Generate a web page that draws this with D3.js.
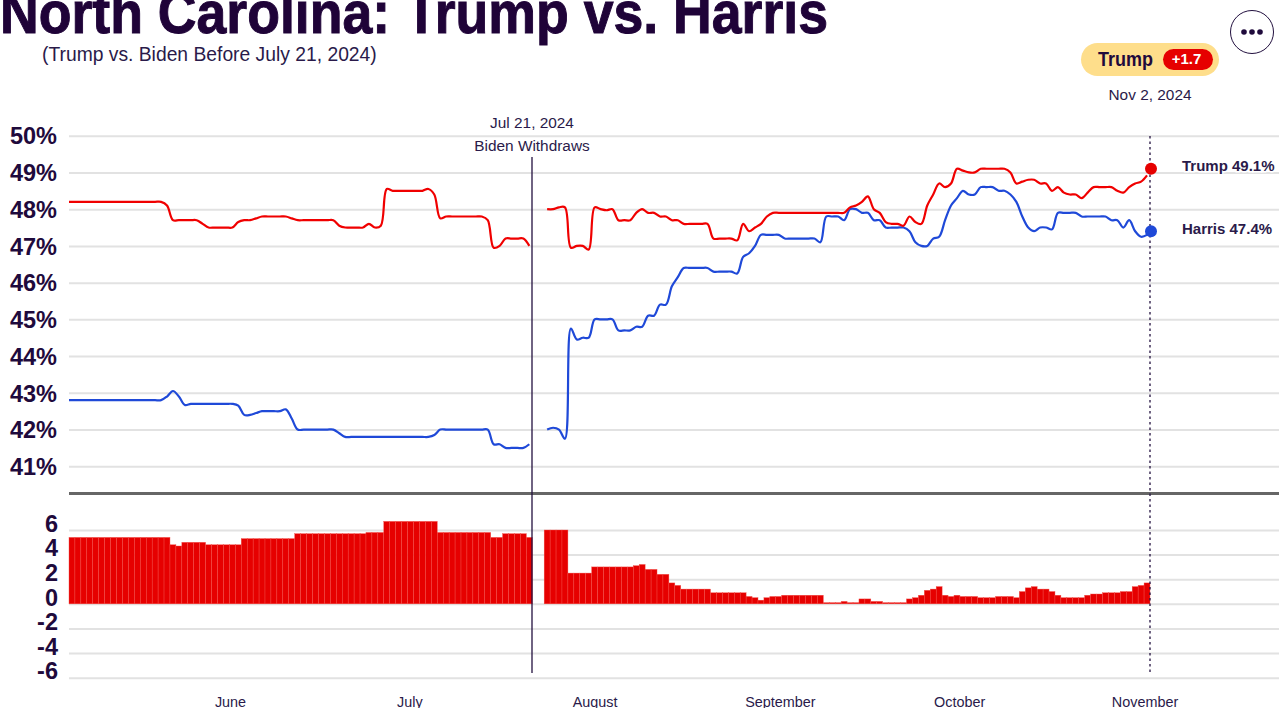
<!DOCTYPE html>
<html>
<head>
<meta charset="utf-8">
<title>North Carolina: Trump vs. Harris</title>
<script src="https://cdn.jsdelivr.net/npm/d3@7"></script>
<style>
  body { margin: 0; background: #fff; overflow: hidden; }
  text { font-family: "Liberation Sans", Arial, sans-serif; fill: #2a1a4a; }
  .grid .domain { display: none; }
  .grid line { stroke: #e2e2e2; stroke-width: 2; }
  .grid text { font-size: 23.5px; font-weight: bold; fill: #1f0a3c; }
  .months .domain, .months line { display: none; }
  .months text { font-size: 14.4px; fill: #2a1a4a; }
</style>
</head>
<body>
<div id="chart"></div>
<script>
// daily values, May 5 to Nov 2 2024. null = the gap after Biden withdraws (Jul 22, 23)
var trump = [
  48.2,48.2,48.2,48.2,48.2,48.2,48.2,48.2,48.2,48.2,48.2,48.2,48.2,48.2,48.2,48.2,
  48.1,47.7,47.7,47.7,47.7,47.7,47.6,47.5,47.5,47.5,47.5,47.5,47.65,47.7,47.7,47.75,
  47.8,47.8,47.8,47.8,47.8,47.75,47.7,47.7,47.7,47.7,47.7,47.7,47.7,47.55,47.5,47.5,
  47.5,47.5,47.6,47.5,47.55,48.55,48.5,48.5,48.5,48.5,48.5,48.5,48.55,48.4,47.75,47.8,
  47.8,47.8,47.8,47.8,47.8,47.8,47.7,46.95,47.0,47.2,47.2,47.2,47.2,47.0,null,null,
  48.0,48.0,48.05,48.05,46.95,47.0,47.0,46.9,48.05,48.0,47.97,48.0,47.7,47.7,47.7,47.9,
  48.0,47.9,47.9,47.8,47.8,47.7,47.7,47.6,47.6,47.6,47.6,47.6,47.2,47.2,47.2,47.2,
  47.15,47.6,47.4,47.5,47.6,47.8,47.9,47.9,47.9,47.9,47.9,47.9,47.9,47.9,47.9,47.9,
  47.9,47.9,47.9,48.05,48.1,48.2,48.35,48.0,47.9,47.65,47.6,47.6,47.55,47.8,47.65,47.6,
  48.1,48.4,48.7,48.6,48.7,49.1,49.05,49.0,49.0,49.1,49.1,49.1,49.1,49.1,49.0,48.7,
  48.75,48.8,48.8,48.7,48.7,48.5,48.6,48.45,48.4,48.4,48.3,48.45,48.6,48.6,48.6,48.6,
  48.5,48.45,48.6,48.7,48.75,48.92
];
var harris = [
  42.8,42.8,42.8,42.8,42.8,42.8,42.8,42.8,42.8,42.8,42.8,42.8,42.8,42.8,42.8,42.8,
  42.9,43.05,42.9,42.67,42.7,42.7,42.7,42.7,42.7,42.7,42.7,42.7,42.65,42.4,42.4,42.45,
  42.5,42.5,42.5,42.5,42.55,42.3,42.0,42.0,42.0,42.0,42.0,42.0,42.0,41.9,41.8,41.8,
  41.8,41.8,41.8,41.8,41.8,41.8,41.8,41.8,41.8,41.8,41.8,41.8,41.8,41.85,42.0,42.0,
  42.0,42.0,42.0,42.0,42.0,42.0,42.0,41.6,41.6,41.5,41.5,41.5,41.5,41.6,null,null,
  42.0,42.05,42.0,41.75,44.75,44.45,44.5,44.5,45.0,45.0,45.0,45.0,44.7,44.7,44.7,44.8,
  44.8,45.1,45.1,45.4,45.4,45.9,46.15,46.4,46.4,46.4,46.4,46.4,46.3,46.3,46.3,46.3,
  46.25,46.7,46.8,47.0,47.3,47.3,47.3,47.3,47.2,47.2,47.2,47.2,47.2,47.2,47.1,47.8,
  47.8,47.8,47.7,48.0,48.0,47.9,47.9,47.7,47.7,47.5,47.5,47.5,47.5,47.4,47.1,47.0,
  47.0,47.2,47.25,47.7,48.1,48.3,48.5,48.4,48.4,48.6,48.6,48.6,48.5,48.5,48.4,48.2,
  47.8,47.5,47.4,47.5,47.5,47.45,47.9,47.9,47.9,47.9,47.8,47.8,47.8,47.8,47.8,47.7,
  47.7,47.5,47.7,47.4,47.25,47.3
];
var spread = [
  5.4,5.4,5.4,5.4,5.4,5.4,5.4,5.4,5.4,5.4,5.4,5.4,5.4,5.4,5.4,5.4,
  5.4,4.8,4.7,5.0,5.0,5.0,5.0,4.8,4.8,4.8,4.8,4.8,4.8,5.3,5.3,5.3,
  5.3,5.3,5.3,5.3,5.3,5.3,5.7,5.7,5.7,5.7,5.7,5.7,5.7,5.7,5.7,5.7,
  5.7,5.7,5.8,5.8,5.8,6.7,6.7,6.7,6.7,6.7,6.7,6.7,6.7,6.7,5.8,5.8,
  5.8,5.8,5.8,5.8,5.8,5.8,5.8,5.4,5.4,5.7,5.7,5.7,5.7,5.4,null,null,
  6.0,6.0,6.0,6.0,2.5,2.5,2.5,2.5,3.0,3.0,3.0,3.0,3.0,3.0,3.0,3.1,
  3.2,2.8,2.8,2.4,2.4,1.7,1.5,1.2,1.2,1.2,1.2,1.2,0.9,0.9,0.9,0.9,
  0.9,0.9,0.6,0.5,0.3,0.5,0.6,0.6,0.7,0.7,0.7,0.7,0.7,0.7,0.7,0.1,
  0.1,0.1,0.2,0.1,0.1,0.4,0.4,0.2,0.2,0.1,0.1,0.1,0.1,0.4,0.5,0.7,
  1.1,1.2,1.4,0.7,0.6,0.7,0.6,0.6,0.6,0.5,0.5,0.5,0.6,0.6,0.6,0.5,
  1.0,1.3,1.4,1.2,1.2,1.0,0.7,0.5,0.5,0.5,0.5,0.7,0.8,0.8,0.9,0.9,
  0.9,1.0,1.0,1.4,1.5,1.7
];
var latest = [{name: "Trump", value: 49.1, color: "#e60000"}, {name: "Harris", value: 47.4, color: "#1f49d8"}];
var percentTicks = [41, 42, 43, 44, 45, 46, 47, 48, 49, 50];
var spreadTicks = [-6, -4, -2, 0, 2, 4, 6];
var monthTicks = [new Date(2024, 5, 1), new Date(2024, 6, 1), new Date(2024, 7, 1), new Date(2024, 8, 1), new Date(2024, 9, 1), new Date(2024, 10, 1)];

var width = 1279,
  height = 708,
  left = 69,
  plotRight = 1150,
  ink = "#22103f";

var svg = d3.select("#chart").append("svg")
  .attr("width", width)
  .attr("height", height)
  .style("display", "block");

var days = d3.range(spread.length);

var x = d3.scaleBand().domain(days).range([left, plotRight]).padding(0);
var xMonths = d3.scaleTime().domain([monthTicks[0], monthTicks[5]]).range([230, 1144.5]);
var yTop = d3.scaleLinear().domain([41, 50]).range([466.3, 135.7]);
var yBottom = d3.scaleLinear().domain([-6, 6]).range([677.7, 530]);

// Below, the grid lines and the labels of both panels
svg.append("g")
  .attr("class", "grid")
  .attr("transform", "translate(" + left + ",0)")
  .call(d3.axisLeft(yTop).tickValues(percentTicks).tickSize(-(width - left)).tickPadding(12).tickFormat(function(d) { return d + "%"; }))
  .selectAll("text").attr("dy", "0.35em");

// plain hyphen on the negative labels, like the original
svg.append("g")
  .attr("class", "grid")
  .attr("transform", "translate(" + left + ",0)")
  .call(d3.axisLeft(yBottom).tickValues(spreadTicks).tickSize(-(width - left)).tickPadding(11).tickFormat(function(d) { return String(d); }))
  .selectAll("text").attr("dy", "0.05em");

svg.append("g")
  .attr("class", "months")
  .attr("transform", "translate(0,695.3)")
  .call(d3.axisBottom(xMonths).tickValues(monthTicks).tickSize(0).tickPadding(0).tickFormat(d3.timeFormat("%B")))
  .selectAll("text").attr("dy", "0.8em");

// divider between the two panels
svg.append("line")
  .attr("x1", left).attr("x2", width)
  .attr("y1", 493.5).attr("y2", 493.5)
  .attr("stroke", "#666").attr("stroke-width", 3);

// spread bars
svg.append("g").selectAll("rect")
  .data(days.filter(function(i) { return spread[i] != null; }))
  .enter().append("rect")
  .attr("x", function(i) { return x(i); })
  .attr("y", function(i) { return yBottom(spread[i]); })
  .attr("width", x.bandwidth())
  .attr("height", function(i) { return yBottom(0) - yBottom(spread[i]); })
  .attr("fill", "#e60000")
  .attr("stroke", "#f4504a")
  .attr("stroke-width", 0.4);

// the two polling lines, the first point sits on the left edge of the plot
function drawLine(values, color) {
  var line = d3.line()
    .defined(function(i) { return values[i] != null; })
    .x(function(i) { return i == 0 ? left : x(i) + x.bandwidth() / 2; })
    .y(function(i) { return yTop(values[i]); })
    .curve(d3.curveCatmullRom.alpha(0.5));

  svg.append("path")
    .attr("d", line(days))
    .attr("fill", "none")
    .attr("stroke", color)
    .attr("stroke-width", 2.2);
}
drawLine(harris, latest[1].color);
drawLine(trump, "#f00000");

// Biden withdraws marker and the dotted line of the latest date
svg.append("line")
  .attr("x1", 532).attr("x2", 532)
  .attr("y1", 157).attr("y2", 673)
  .attr("stroke", ink).attr("stroke-width", 1.3);

svg.append("line")
  .attr("x1", plotRight).attr("x2", plotRight)
  .attr("y1", 136).attr("y2", 673)
  .attr("stroke", ink).attr("stroke-width", 1.3)
  .attr("stroke-dasharray", "2.5,3");

svg.selectAll("circle.end")
  .data(latest)
  .enter().append("circle")
  .attr("class", "end")
  .attr("cx", plotRight + 1)
  .attr("cy", function(d) { return yTop(d.value); })
  .attr("r", 6)
  .attr("fill", function(d) { return d.color; });

svg.selectAll("text.endLabel")
  .data(latest)
  .enter().append("text")
  .attr("class", "endLabel")
  .attr("x", 1182)
  .attr("y", function(d) { return yTop(d.value) + 2.5; })
  .style("font-size", "15px")
  .style("font-weight", "bold")
  .style("paint-order", "stroke")
  .style("stroke", "#fff")
  .style("stroke-width", 3)
  .text(function(d) { return d.name + " " + d.value.toFixed(1) + "%"; });

function centered(label, cx, cy, size) {
  svg.append("text")
    .attr("x", cx).attr("y", cy)
    .attr("text-anchor", "middle")
    .style("font-size", size + "px")
    .text(label);
}
centered("Jul 21, 2024", 532, 128, 15.4);
centered("Biden Withdraws", 532, 151, 15.4);
centered("Nov 2, 2024", 1150, 100, 15.4);

// title, cut off by the top of the window like in the screenshot
svg.append("text")
  .attr("x", 0).attr("y", 33)
  .attr("textLength", 828)
  .attr("lengthAdjust", "spacingAndGlyphs")
  .style("font-size", "60px")
  .style("font-weight", "bold")
  .style("fill", "#1f0338")
  .style("stroke", "#1f0338")
  .style("stroke-width", 1)
  .text("North Carolina: Trump vs. Harris");

svg.append("text")
  .attr("x", 42).attr("y", 61)
  .style("font-size", "19.3px")
  .text("(Trump vs. Biden Before July 21, 2024)");

// leader badge
svg.append("rect")
  .attr("x", 1081).attr("y", 43).attr("width", 138).attr("height", 33)
  .attr("rx", 16.5).attr("fill", "#fede8b");
svg.append("rect")
  .attr("x", 1163).attr("y", 49).attr("width", 50).attr("height", 21)
  .attr("rx", 10.5).attr("fill", "#e60000");
svg.append("text")
  .attr("x", 1098).attr("y", 66)
  .attr("textLength", 55)
  .attr("lengthAdjust", "spacingAndGlyphs")
  .style("font-size", "20px")
  .style("font-weight", "bold")
  .style("fill", "#1f0a3c")
  .text("Trump");
svg.append("text")
  .attr("x", 1186.5).attr("y", 64)
  .attr("text-anchor", "middle")
  .style("font-size", "15px")
  .style("font-weight", "bold")
  .style("fill", "#fff")
  .text("+1.7");

// menu button
svg.append("circle")
  .attr("cx", 1252).attr("cy", 32).attr("r", 21.5)
  .attr("fill", "#fff").attr("stroke", ink).attr("stroke-width", 1);
svg.selectAll("circle.dot")
  .data([-8, 0, 8])
  .enter().append("circle")
  .attr("class", "dot")
  .attr("cx", function(d) { return 1252 + d; })
  .attr("cy", 32)
  .attr("r", 2.8)
  .attr("fill", "#1f0a3c");
</script>
</body>
</html>
